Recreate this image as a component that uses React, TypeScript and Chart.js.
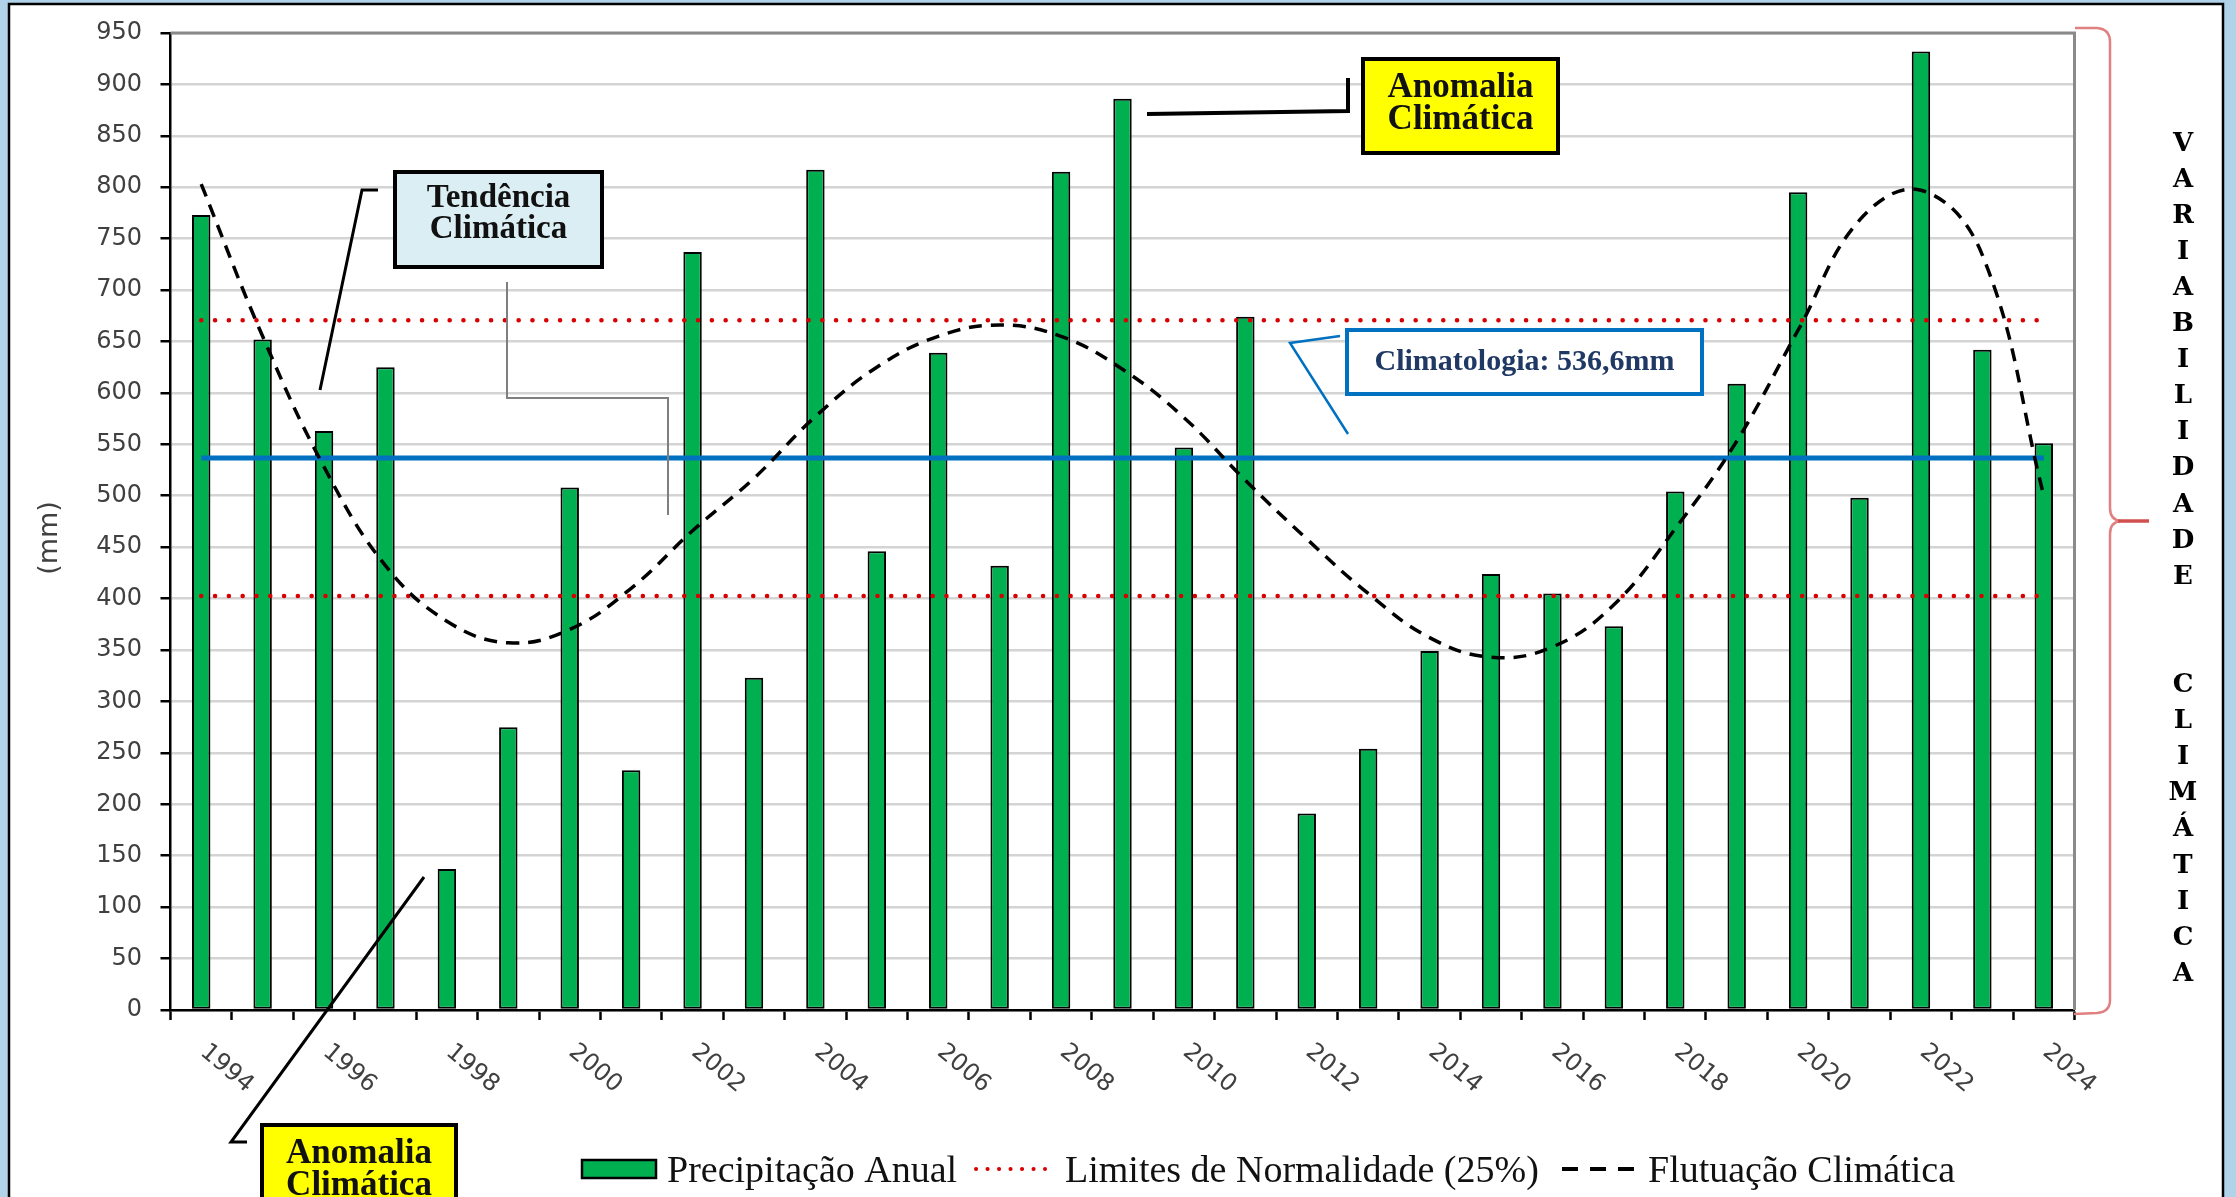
import { useEffect, useRef } from 'react';
import { Chart, registerables } from 'chart.js';

Chart.register(...registerables);

const years = [
  '1994', '1995', '1996', '1997', '1998', '1999', '2000', '2001', '2002', '2003', '2004',
  '2005', '2006', '2007', '2008', '2009', '2010', '2011', '2012', '2013', '2014', '2015',
  '2016', '2017', '2018', '2019', '2020', '2021', '2022', '2023', '2024',
];

const precipitation = [
  773, 652, 563, 625, 137, 275, 508, 233, 737, 323, 817,
  446, 639, 432, 815, 886, 547, 674, 191, 254, 349, 424,
  405, 373, 504, 609, 795, 498, 932, 642, 551,
];

const fluctuation = [
  803, 655, 528, 432, 378, 357, 370, 410, 466, 517, 577,
  625, 655, 666, 655, 623, 576, 515, 458, 405, 362, 343,
  353, 394, 468, 553, 661, 768, 797, 734, 500,
];

const climatology = 536.6;
const upperLimit = 670.7;
const lowerLimit = 402.5;

const yMin = 0;
const yMax = 950;
const yStep = 50;

const verticalText = ['V', 'A', 'R', 'I', 'A', 'B', 'I', 'L', 'I', 'D', 'A', 'D', 'E', '', '', 'C', 'L', 'I', 'M', 'Á', 'T', 'I', 'C', 'A'];

const W = 2236;
const H = 1197;

function line(ctx: CanvasRenderingContext2D, pts: number[][], color: string, width: number, dash: number[] = [], cap: CanvasLineCap = 'butt') {
  ctx.save();
  ctx.strokeStyle = color;
  ctx.lineWidth = width;
  ctx.setLineDash(dash);
  ctx.lineCap = cap;
  ctx.lineJoin = 'miter';
  ctx.beginPath();
  pts.forEach((p, i) => (i === 0 ? ctx.moveTo(p[0], p[1]) : ctx.lineTo(p[0], p[1])));
  ctx.stroke();
  ctx.restore();
}

function box(ctx: CanvasRenderingContext2D, x: number, y: number, w: number, h: number, fill: string, stroke: string, lw: number) {
  ctx.save();
  ctx.fillStyle = fill;
  ctx.fillRect(x, y, w, h);
  ctx.strokeStyle = stroke;
  ctx.lineWidth = lw;
  ctx.strokeRect(x, y, w, h);
  ctx.restore();
}

function centerText(ctx: CanvasRenderingContext2D, text: string, x: number, y: number, font: string, color: string) {
  ctx.save();
  ctx.font = font;
  ctx.fillStyle = color;
  ctx.textAlign = 'center';
  ctx.textBaseline = 'alphabetic';
  ctx.fillText(text, x, y);
  ctx.restore();
}

const decorPlugin = {
  id: 'decor',
  beforeDraw(chart: any) {
    const ctx: CanvasRenderingContext2D = chart.ctx;
    ctx.save();
    ctx.fillStyle = '#b1d3ea';
    ctx.fillRect(0, 0, W, H);
    ctx.fillStyle = '#ffffff';
    ctx.fillRect(9, 4, 2214, H);
    ctx.strokeStyle = '#000';
    ctx.lineWidth = 2.5;
    ctx.strokeRect(9, 4, 2214, H + 20);
    ctx.restore();
  },
  beforeDatasetsDraw(chart: any) {
    const ctx: CanvasRenderingContext2D = chart.ctx;
    const a = chart.chartArea;
    line(ctx, [[a.left, a.top], [a.right, a.top], [a.right, a.bottom]], '#8a8a8a', 3);
  },
  afterDraw(chart: any) {
    const ctx: CanvasRenderingContext2D = chart.ctx;
    const xs = chart.scales.x;

    // x labels rotated clockwise
    ctx.save();
    ctx.font = '24px "DejaVu Sans"';
    ctx.fillStyle = '#404040';
    ctx.textAlign = 'left';
    ctx.textBaseline = 'middle';
    years.forEach((yr, i) => {
      if (i % 2 !== 0) return;
      const px = xs.getPixelForValue(i);
      ctx.save();
      ctx.translate(px + 2, 1049);
      ctx.rotate((40 * Math.PI) / 180);
      ctx.fillText(yr, 0, 0);
      ctx.restore();
    });
    ctx.restore();

    // y title
    ctx.save();
    ctx.font = '27px "DejaVu Sans"';
    ctx.fillStyle = '#404040';
    ctx.textAlign = 'center';
    ctx.textBaseline = 'middle';
    ctx.translate(50, 538);
    ctx.rotate(-Math.PI / 2);
    ctx.fillText('(mm)', 0, 0);
    ctx.restore();

    // brace
    ctx.save();
    ctx.strokeStyle = '#e08080';
    ctx.lineWidth = 2.5;
    ctx.beginPath();
    ctx.moveTo(2075, 28);
    ctx.lineTo(2097, 28);
    ctx.quadraticCurveTo(2110, 29, 2110, 42);
    ctx.lineTo(2110, 508);
    ctx.quadraticCurveTo(2110, 520, 2121, 521);
    ctx.moveTo(2121, 521);
    ctx.quadraticCurveTo(2110, 522, 2110, 534);
    ctx.lineTo(2110, 1000);
    ctx.quadraticCurveTo(2110, 1012, 2097, 1013);
    ctx.lineTo(2074, 1014);
    ctx.stroke();
    ctx.strokeStyle = '#d05050';
    ctx.lineWidth = 3.5;
    ctx.beginPath();
    ctx.moveTo(2118, 521);
    ctx.lineTo(2149, 521);
    ctx.stroke();
    ctx.restore();

    // vertical text
    ctx.save();
    ctx.font = 'bold 26px "DejaVu Serif"';
    ctx.fillStyle = '#000';
    ctx.textAlign = 'center';
    ctx.textBaseline = 'alphabetic';
    verticalText.forEach((ch, i) => {
      if (!ch) return;
      ctx.fillText(ch, 2183, 141 + 36.1 * i + 9.5);
    });
    ctx.restore();

    // Tendência Climática
    line(ctx, [[320, 390], [362, 190], [378, 190]], '#000', 3);
    line(ctx, [[507, 282], [507, 398], [668, 398], [668, 515]], '#7f7f7f', 2);
    box(ctx, 395, 172, 207, 95, '#dbeef4', '#000', 4);
    centerText(ctx, 'Tendência', 498.5, 207, 'bold 33px "Liberation Serif"', '#111');
    centerText(ctx, 'Climática', 498.5, 238, 'bold 33px "Liberation Serif"', '#111');

    // Anomalia top
    line(ctx, [[1147, 114], [1348, 111], [1348, 78]], '#000', 4);
    box(ctx, 1363, 59, 195, 94, '#ffff00', '#000', 4);
    centerText(ctx, 'Anomalia', 1460.5, 97, 'bold 35px "Liberation Serif"', '#111');
    centerText(ctx, 'Climática', 1460.5, 129, 'bold 35px "Liberation Serif"', '#111');

    // Anomalia bottom
    line(ctx, [[424, 877], [231, 1142], [247, 1142]], '#000', 3);
    box(ctx, 262, 1125, 194, 100, '#ffff00', '#000', 4);
    centerText(ctx, 'Anomalia', 359, 1163, 'bold 35px "Liberation Serif"', '#111');
    centerText(ctx, 'Climática', 359, 1195, 'bold 35px "Liberation Serif"', '#111');

    // Climatologia
    line(ctx, [[1340, 336], [1290, 343], [1348, 434]], '#0070c0', 2.5);
    box(ctx, 1347, 330, 355, 64, '#ffffff', '#0070c0', 4);
    centerText(ctx, 'Climatologia: 536,6mm', 1524.5, 370, 'bold 30px "Liberation Serif"', '#1f3864');

    // legend
    const ly = 1169;
    box(ctx, 582, 1160, 74, 18, '#00b050', '#000', 2.5);
    ctx.save();
    ctx.font = '38px "Liberation Serif"';
    ctx.fillStyle = '#111';
    ctx.textAlign = 'left';
    ctx.textBaseline = 'alphabetic';
    ctx.fillText('Precipitação Anual', 667, ly + 12.5);
    ctx.fillText('Limites de Normalidade (25%)', 1065, ly + 12.5);
    ctx.fillText('Flutuação Climática', 1648, ly + 12.5);
    ctx.restore();
    line(ctx, [[976, ly], [1045, ly]], '#d80000', 4, [0.1, 11.4], 'round');
    line(ctx, [[1562, ly], [1634, ly]], '#000', 4, [16, 12]);
  },
};

export default function App() {
  const ref = useRef<HTMLCanvasElement | null>(null);

  useEffect(() => {
    if (!ref.current) return;
    const constSeries = (v: number) => years.map(() => v);
    const chart = new Chart(ref.current, {
      type: 'bar',
      data: {
        labels: years,
        datasets: [
          {
            type: 'line',
            label: 'Flutuação Climática',
            data: fluctuation,
            borderColor: '#000',
            borderWidth: 3.5,
            borderDash: [13, 9],
            pointRadius: 0,
            tension: 0.4,
            fill: false,
            order: 1,
          } as any,
          {
            type: 'line',
            label: 'Limite superior',
            data: constSeries(upperLimit),
            borderColor: '#d80000',
            borderWidth: 4.5,
            borderDash: [0.1, 13.7],
            borderCapStyle: 'round',
            pointRadius: 0,
            fill: false,
            order: 1,
          } as any,
          {
            type: 'line',
            label: 'Limite inferior',
            data: constSeries(lowerLimit),
            borderColor: '#d80000',
            borderWidth: 4.5,
            borderDash: [0.1, 13.7],
            borderCapStyle: 'round',
            pointRadius: 0,
            fill: false,
            order: 1,
          } as any,
          {
            type: 'line',
            label: 'Climatologia',
            data: constSeries(climatology),
            borderColor: '#0070c0',
            borderWidth: 5,
            pointRadius: 0,
            fill: false,
            order: 1,
          } as any,
          {
            type: 'bar',
            label: 'Precipitação Anual',
            data: precipitation,
            backgroundColor: '#00b050',
            borderColor: '#000',
            borderWidth: 2,
            borderSkipped: false,
            barPercentage: 0.3,
            categoryPercentage: 1.0,
            order: 2,
          } as any,
        ],
      },
      options: {
        responsive: false,
        animation: false,
        events: [],
        layout: { padding: { top: 28, right: 161.5, left: 0, bottom: 0 } },
        plugins: {
          legend: { display: false },
          tooltip: { enabled: false },
          title: { display: false },
        },
        scales: {
          x: {
            type: 'category',
            offset: true,
            grid: {
              display: true,
              drawOnChartArea: false,
              drawTicks: true,
              tickLength: 10,
              tickColor: '#000',
              tickWidth: 2.5,
              offset: true,
            },
            border: { display: true, color: '#000', width: 2.5 },
            ticks: { display: false },
            afterFit: (s: any) => {
              s.height = 187;
            },
          },
          y: {
            min: yMin,
            max: yMax,
            ticks: {
              stepSize: yStep,
              font: { family: 'DejaVu Sans', size: 24 },
              color: '#404040',
              padding: 18.5,
            },
            grid: {
              color: '#d4d4d4',
              lineWidth: 2.5,
              drawTicks: true,
              tickLength: 10,
              tickColor: '#000',
              tickWidth: 2.5,
            },
            border: { display: true, color: '#000', width: 2.5 },
            afterFit: (s: any) => {
              s.width = 170.5;
            },
          },
        },
      },
      plugins: [decorPlugin],
    });
    return () => chart.destroy();
  }, []);

  return (
    <div style={{ position: 'fixed', left: 0, top: 0, width: W, height: H, overflow: 'hidden' }}>
      <canvas ref={ref} width={W} height={H} style={{ width: W, height: H, display: 'block' }} />
    </div>
  );
}
